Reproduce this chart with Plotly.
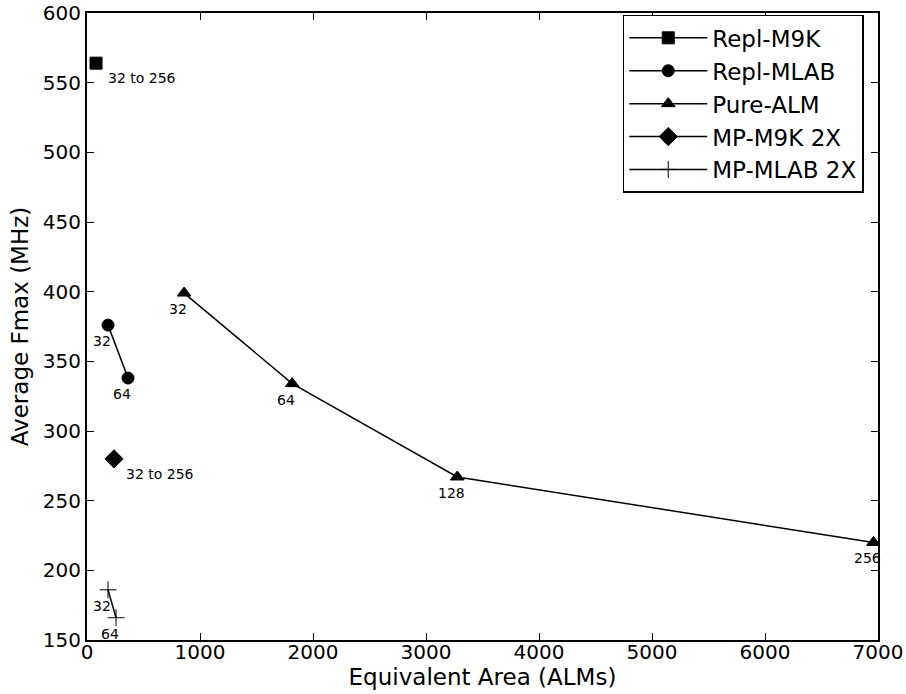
import plotly.graph_objects as go

# data
m9k_x = [80]
m9k_y = [564]
m9k_lbl = ["32 to 256"]

mlab_x = [186, 363]
mlab_y = [376, 338]
mlab_lbl = ["32", "64"]

alm_x = [859, 1816, 3277, 6960]
alm_y = [399, 334, 267, 220]
alm_lbl = ["32", "64", "128", "256"]

mp_m9k_x = [239]
mp_m9k_y = [280]
mp_m9k_lbl = ["32 to 256"]

mp_mlab_x = [186, 257]
mp_mlab_y = [186, 166]
mp_mlab_lbl = ["32", "64"]

x_ticks = [0, 1000, 2000, 3000, 4000, 5000, 6000, 7000]
y_ticks = [150, 200, 250, 300, 350, 400, 450, 500, 550, 600]

FONT = "DejaVu Sans"

series = [
    ("Repl-M9K", m9k_x, m9k_y, m9k_lbl, "square", 12),
    ("Repl-MLAB", mlab_x, mlab_y, mlab_lbl, "circle", 12),
    ("Pure-ALM", alm_x, alm_y, alm_lbl, "triangle-up", 12),
    ("MP-M9K 2X", mp_m9k_x, mp_m9k_y, mp_m9k_lbl, "diamond", 14),
    ("MP-MLAB 2X", mp_mlab_x, mp_mlab_y, mp_mlab_lbl, "cross-thin", 12),
]

fig = go.Figure()
annotations = []
for name, xs, ys, lbls, sym, size in series:
    fig.add_trace(go.Scatter(
        x=xs, y=ys, name=name, mode="lines+markers",
        line=dict(color="black", width=1.5),
        marker=dict(symbol=sym, size=size, color="black",
                    line=dict(color="black", width=1)),
    ))
    for xv, yv, t in zip(xs, ys, lbls):
        if "to" in t:
            annotations.append(dict(x=xv, y=yv, text=t, showarrow=False,
                                    xanchor="left", yanchor="middle",
                                    xshift=10, yshift=-15,
                                    font=dict(size=14, color="black", family=FONT)))
        else:
            annotations.append(dict(x=xv, y=yv, text=t, showarrow=False,
                                    xanchor="center", yanchor="middle",
                                    xshift=-6, yshift=-16,
                                    font=dict(size=14, color="black", family=FONT)))

axis_common = dict(
    showgrid=False, zeroline=False, showline=True, linecolor="black", linewidth=2,
    mirror="ticks", ticks="inside", ticklen=7, tickwidth=1, tickcolor="black",
    tickfont=dict(size=20, family=FONT, color="black"),
)

fig.update_layout(
    width=906, height=694,
    margin=dict(l=87, r=28, t=13, b=54, autoexpand=False),
    plot_bgcolor="white", paper_bgcolor="white",
    font=dict(family=FONT, color="black"),
    annotations=annotations,
    xaxis=dict(range=[0, 7000], tickvals=x_ticks, ticklabelstandoff=-7,
               title=dict(text="Equivalent Area (ALMs)", font=dict(size=23), standoff=2),
               **axis_common),
    yaxis=dict(range=[150, 600], tickvals=y_ticks,
               title=dict(text="Average Fmax (MHz)", font=dict(size=23), standoff=8),
               **axis_common),
    legend=dict(x=0.982, y=0.997, xanchor="right", yanchor="top",
                bordercolor="black", borderwidth=1.5, bgcolor="white",
                font=dict(size=23, family=FONT), itemwidth=78, tracegroupgap=0),
    showlegend=True,
)

# drop the default 8px body margin so the figure sits at the window corner
fig.write_html("out.html", config={"displayModeBar": False},
               post_script="document.body.style.margin='0';")
